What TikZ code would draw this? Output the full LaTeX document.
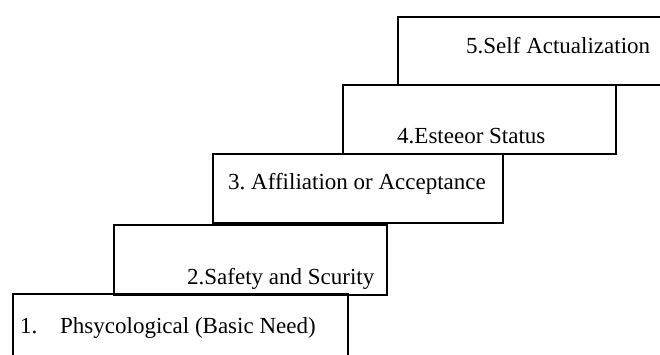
\documentclass[tikz,border=0pt]{standalone}
\usepackage{fontspec}
\setmainfont{Liberation Serif}
\frenchspacing
\begin{document}
\begin{tikzpicture}[x=1pt,y=-1pt,
  stepbox/.style={draw=black,line width=2pt,inner sep=0pt,anchor=north west},
  steptext/.style={inner sep=0pt,anchor=base west,font=\fontsize{23}{27}\selectfont}]
\useasboundingbox (0,0) rectangle (660,354);
% boxes: (left,top), width x height
\node[stepbox,minimum width=268pt,minimum height=68pt] (b5) at (397,16) {};
\node[stepbox,minimum width=273pt,minimum height=69pt] (b4) at (342,84) {};
\node[stepbox,minimum width=290pt,minimum height=69pt] (b3) at (212,153) {};
\node[stepbox,minimum width=273pt,minimum height=70pt] (b2) at (113,224) {};
\node[stepbox,minimum width=335pt,minimum height=70pt] (b1) at (12,293) {};
% texts
\node[steptext] (t5) at (466,53) {5.Self Actualization};
\node[steptext] (t4) at (397,143) {4.Esteeor Status};
\node[steptext] (t3) at (228,189) {3. Affiliation or Acceptance};
\node[steptext] (t2) at (187,284) {2.Safety and Scurity};
\node[steptext] (t1n) at (20,333) {1.};
\node[steptext] (t1) at (60,333) {Phsycological (Basic Need)};
\end{tikzpicture}
\end{document}
